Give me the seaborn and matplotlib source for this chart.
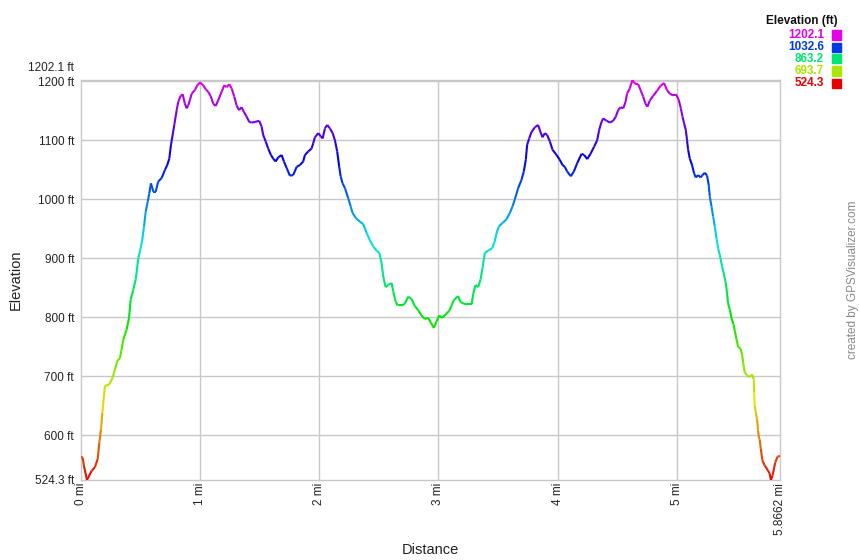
import colorsys
import numpy as np
import matplotlib
matplotlib.use("Agg")
import matplotlib.pyplot as plt
from matplotlib.collections import LineCollection
import seaborn as sns

# elevation profile: distance (mi), elevation (ft)
dist_mi = [0.000, 0.014, 0.025, 0.050, 0.090, 0.117, 0.140, 0.154, 0.168, 0.179,
           0.193, 0.201, 0.237, 0.266, 0.285, 0.305, 0.327, 0.341, 0.355, 0.383,
           0.403, 0.417, 0.439, 0.459, 0.481, 0.495, 0.514, 0.529, 0.543, 0.560,
           0.573, 0.587, 0.607, 0.627, 0.648, 0.677, 0.705, 0.724, 0.741, 0.755,
           0.769, 0.783, 0.803, 0.816, 0.836, 0.853, 0.872, 0.887, 0.900, 0.914,
           0.929, 0.956, 0.976, 0.998, 1.026, 1.049, 1.068, 1.088, 1.110, 1.130,
           1.152, 1.180, 1.202, 1.222, 1.244, 1.264, 1.286, 1.306, 1.326, 1.348,
           1.367, 1.390, 1.412, 1.432, 1.460, 1.496, 1.516, 1.529, 1.550, 1.571,
           1.594, 1.613, 1.633, 1.655, 1.684, 1.703, 1.726, 1.753, 1.781, 1.810,
           1.837, 1.865, 1.879, 1.907, 1.935, 1.949, 1.963, 1.991, 2.011, 2.028,
           2.047, 2.066, 2.089, 2.112, 2.131, 2.150, 2.167, 2.179, 2.195, 2.215,
           2.242, 2.263, 2.279, 2.307, 2.341, 2.368, 2.397, 2.424, 2.452, 2.481,
           2.503, 2.523, 2.536, 2.556, 2.578, 2.607, 2.620, 2.640, 2.657, 2.690,
           2.718, 2.746, 2.774, 2.802, 2.830, 2.858, 2.886, 2.914, 2.936, 2.961,
           2.984, 3.006, 3.031, 3.062, 3.090, 3.110, 3.129, 3.165, 3.185, 3.213,
           3.241, 3.278, 3.291, 3.311, 3.333, 3.353, 3.370, 3.389, 3.417, 3.451,
           3.473, 3.488, 3.507, 3.538, 3.571, 3.599, 3.622, 3.641, 3.669, 3.697,
           3.716, 3.733, 3.744, 3.761, 3.781, 3.809, 3.836, 3.856, 3.873, 3.893,
           3.912, 3.935, 3.957, 3.991, 4.018, 4.041, 4.060, 4.080, 4.111, 4.136,
           4.164, 4.201, 4.223, 4.248, 4.276, 4.306, 4.332, 4.348, 4.368, 4.382,
           4.411, 4.438, 4.466, 4.488, 4.508, 4.528, 4.550, 4.570, 4.583, 4.606,
           4.628, 4.648, 4.676, 4.696, 4.718, 4.737, 4.754, 4.773, 4.801, 4.835,
           4.863, 4.893, 4.918, 4.941, 4.969, 4.998, 5.017, 5.034, 5.048, 5.061,
           5.076, 5.086, 5.095, 5.109, 5.128, 5.145, 5.159, 5.179, 5.199, 5.216,
           5.235, 5.254, 5.268, 5.277, 5.291, 5.305, 5.319, 5.333, 5.347, 5.367,
           5.380, 5.394, 5.411, 5.422, 5.430, 5.445, 5.459, 5.476, 5.487, 5.501,
           5.514, 5.535, 5.548, 5.557, 5.570, 5.590, 5.612, 5.632, 5.646, 5.649,
           5.654, 5.663, 5.674, 5.682, 5.690, 5.696, 5.705, 5.719, 5.738, 5.766,
           5.780, 5.790, 5.804, 5.826, 5.846, 5.8662]
elev_ft = [564, 562, 548, 524.3, 540, 546, 560, 588, 610, 638,
           667, 684, 686, 698, 712, 726, 731, 746, 762, 779,
           799, 830, 847, 864, 900, 912, 931, 954, 979, 996,
           1010, 1027, 1013, 1013, 1030, 1036, 1050, 1058, 1069, 1092,
           1109, 1126, 1151, 1165, 1175, 1178, 1162, 1154, 1159, 1168,
           1179, 1185, 1193, 1198, 1193, 1186, 1182, 1175, 1162, 1158,
           1168, 1182, 1193, 1190, 1195, 1188, 1174, 1159, 1151, 1156,
           1148, 1140, 1131, 1130, 1131, 1133, 1123, 1109, 1098, 1086,
           1075, 1069, 1064, 1071, 1075, 1064, 1053, 1040, 1041, 1055,
           1058, 1064, 1075, 1081, 1086, 1095, 1105, 1112, 1107, 1103,
           1120, 1126, 1120, 1112, 1100, 1081, 1055, 1039, 1027, 1019,
           1002, 988, 977, 968, 962, 958, 943, 931, 920, 913,
           909, 892, 870, 851, 855, 858, 844, 827, 820, 820,
           823, 835, 831, 819, 812, 803, 797, 799, 791, 782,
           793, 803, 799, 805, 811, 820, 829, 836, 826, 823,
           822, 822, 839, 855, 851, 864, 884, 909, 913, 917,
           929, 943, 954, 960, 966, 977, 988, 1000, 1019, 1033,
           1047, 1067, 1092, 1103, 1114, 1122, 1126, 1114, 1105, 1112,
           1109, 1098, 1084, 1075, 1067, 1058, 1055, 1047, 1039, 1047,
           1061, 1077, 1075, 1068, 1077, 1089, 1100, 1117, 1131, 1137,
           1133, 1130, 1133, 1140, 1151, 1156, 1154, 1165, 1179, 1188,
           1202.1, 1196, 1195, 1185, 1174, 1162, 1157, 1167, 1175, 1184,
           1192, 1197, 1185, 1179, 1176, 1176, 1168, 1154, 1140, 1129,
           1117, 1100, 1084, 1069, 1058, 1044, 1037, 1041, 1037, 1041,
           1045, 1040, 1024, 1005, 988, 971, 954, 934, 917, 900,
           886, 875, 858, 841, 824, 813, 799, 788, 777, 763,
           750, 747, 737, 723, 707, 701, 699, 703, 695, 673,
           650, 639, 627, 608, 595, 593, 577, 557, 549, 540,
           535, 524.3, 532, 554, 564, 565]

legend_vals = [1202.1, 1032.6, 863.2, 693.7, 524.3]
y_ticks = [600, 700, 800, 900, 1000, 1100, 1200]
x_ticks = [0, 1, 2, 3, 4, 5, 5.8662]
x_labels = ["0 mi", "1 mi", "2 mi", "3 mi", "4 mi", "5 mi", "5.8662 mi"]

lo, hi = 524.3, 1202.1


def elev_color(v):
    # red -> yellow -> green -> blue -> magenta, like the GPSVisualizer scale
    t = (v - lo) / (hi - lo)
    return colorsys.hsv_to_rgb(t * 300 / 360, 1.0, 0.9)


sns.set_theme(style="white")
plt.rcParams["font.family"] = ["Liberation Sans", "DejaVu Sans"]

fig = plt.figure(figsize=(8.6, 5.6), dpi=100)
ax = fig.add_axes([81 / 860, 80 / 560, 699 / 860, 400 / 560])

x = np.array(dist_mi)
y = np.array(elev_ft)
pts = np.column_stack([x, y]).reshape(-1, 1, 2)
segs = np.concatenate([pts[:-1], pts[1:]], axis=1)
cols = [elev_color((a + b) / 2) for a, b in zip(y[:-1], y[1:])]
ax.add_collection(LineCollection(segs, colors=cols, linewidths=1.5,
                                 capstyle="butt", joinstyle="round", zorder=3))

ax.set_xlim(0, 5.8662)
ax.set_ylim(lo, hi)

grid_c = "#c8c8c8"
for v in y_ticks:
    ax.axhline(v, color=grid_c, lw=1, zorder=1)
for v in x_ticks[1:-1]:
    ax.axvline(v, color=grid_c, lw=1, zorder=1)
for s in ax.spines.values():
    s.set_color(grid_c)
    s.set_linewidth(1)

ax.set_yticks([lo] + y_ticks)
ax.set_yticklabels(["524.3 ft"] + [f"{v} ft" for v in y_ticks])
ax.set_xticks(x_ticks)
ax.set_xticklabels(x_labels, rotation=90)
ax.tick_params(axis="both", length=0, labelsize=8.5, colors="#222222")
ax.tick_params(axis="y", pad=5)
ax.tick_params(axis="x", pad=2)
ax.annotate("1202.1 ft", xy=(0, hi), xycoords=("axes fraction", "data"),
            xytext=(-5, 4), textcoords="offset points", ha="right", va="bottom",
            fontsize=8.5, color="#222222")

ax.set_xlabel("Distance", fontsize=10.5, color="#222222", labelpad=6)
ax.set_ylabel("Elevation", fontsize=10.5, color="#222222", labelpad=9)

# legend box on the top right
fig.text(838 / 860, 1 - 21 / 560, "Elevation (ft)", ha="right", va="center",
         fontsize=8.5, fontweight="bold", color="#111111")
for i, v in enumerate(legend_vals):
    yy = 1 - (35 + i * 12) / 560
    c = elev_color(v)
    fig.text(824 / 860, yy, f"{v}", ha="right", va="center", fontsize=8.5,
             fontweight="bold", color=c)
    fig.patches.append(plt.Rectangle((832 / 860, yy - 4.5 / 560), 9 / 860, 9 / 560,
                                     transform=fig.transFigure, color=c))

fig.text(853 / 860, 1 - 280 / 560, "created by GPSVisualizer.com", rotation=90,
         ha="center", va="center", fontsize=8.5, color="#888888")

fig.savefig("out.png", dpi=100)
